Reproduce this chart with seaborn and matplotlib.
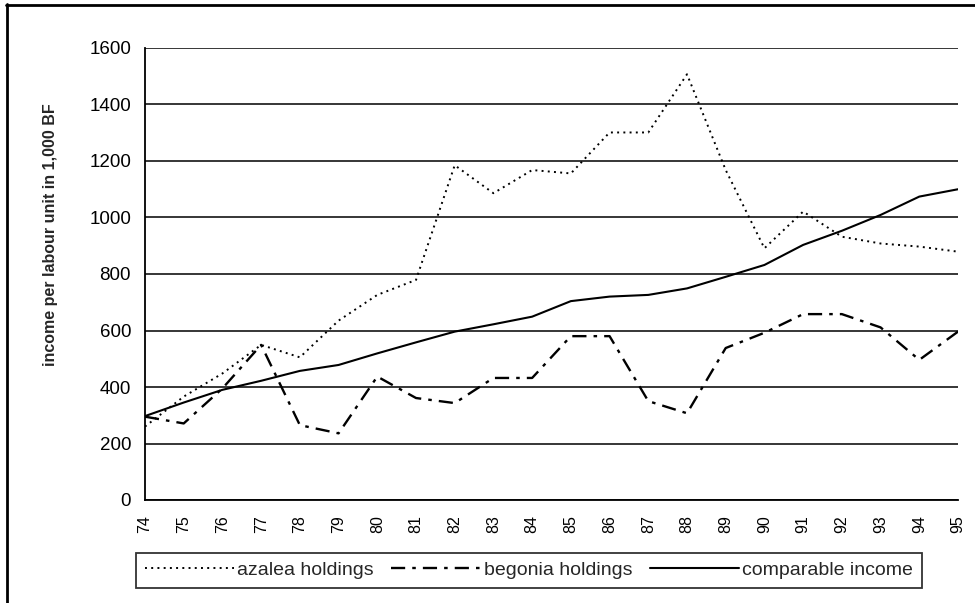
import matplotlib
matplotlib.use("Agg")
import matplotlib.pyplot as plt
import seaborn as sns
import pandas as pd
from matplotlib.lines import Line2D

years = ["74", "75", "76", "77", "78", "79", "80", "81", "82", "83", "84",
         "85", "86", "87", "88", "89", "90", "91", "92", "93", "94", "95"]
azalea = [260, 366, 448, 549, 505, 635, 726, 779, 1185, 1086, 1168,
          1156, 1301, 1301, 1507, 1168, 891, 1021, 932, 908, 897, 879]
begonia = [295, 271, 395, 549, 265, 236, 437, 361, 343, 432, 432,
           580, 580, 350, 307, 538, 592, 658, 658, 611, 496, 596]
comparable = [297, 345, 390, 422, 457, 478, 519, 558, 596, 622, 649,
              704, 720, 726, 749, 790, 832, 903, 953, 1009, 1074, 1100]

sns.set_theme(style="white")
plt.rcParams['font.family'] = ['Liberation Sans', 'DejaVu Sans']

fig = plt.figure(figsize=(9.75, 6.03), dpi=100)
ax = fig.add_axes([145/975, 1 - 500/603, (958-145)/975, (500-48)/603])

x = list(range(len(years)))
df = pd.DataFrame({"x": x, "azalea": azalea, "begonia": begonia, "comparable": comparable})

sns.lineplot(data=df, x="x", y="azalea", ax=ax, color="black", lw=1.4,
             linestyle=(0, (1, 2.2)), label="azalea holdings")
sns.lineplot(data=df, x="x", y="begonia", ax=ax, color="black", lw=1.7,
             linestyle=(0, (6, 3, 1.5, 3)), label="begonia holdings")
sns.lineplot(data=df, x="x", y="comparable", ax=ax, color="black", lw=1.5,
             linestyle="-", label="comparable income")

ax.set_xlim(0, len(years) - 1)
ax.set_ylim(0, 1600)
ax.set_yticks(range(0, 1601, 200))
ax.set_xticks(x)
ax.set_xticklabels(years, rotation=90, fontsize=11.5)
ax.tick_params(axis="y", labelsize=13.5, direction="inout", length=18, width=1.2, colors="black", pad=1)
ax.tick_params(axis="x", direction="inout", length=12, width=1.2, colors="black", pad=5)
ax.set_xlabel("")
ax.set_ylabel("income per labour unit in 1,000 BF", fontsize=11.5, fontweight="bold")
ax.yaxis.set_label_coords(-0.107, 0.588)

ax.grid(axis="y", color="black", lw=1.1)
ax.set_axisbelow(True)
for s in ["top", "right"]:
    ax.spines[s].set_visible(False)
for s in ["left", "bottom"]:
    ax.spines[s].set_color("black")
    ax.spines[s].set_linewidth(1.3)

leg = ax.legend(loc="upper center", bbox_to_anchor=(0.472, -0.117), ncol=3,
                frameon=True, fancybox=False, fontsize=14, handlelength=4.6,
                handletextpad=0.15, columnspacing=0.9, borderpad=0.45,
                borderaxespad=0, edgecolor="black")
leg.get_frame().set_linewidth(1.3)

# figure border: left and top edges only
fig.lines.append(Line2D([7/975, 7/975], [0, 1 - 4/603], transform=fig.transFigure,
                        color="black", lw=2))
fig.lines.append(Line2D([6/975, 1], [1 - 5/603, 1 - 5/603], transform=fig.transFigure,
                        color="black", lw=2))

fig.savefig("out.png", dpi=100)
